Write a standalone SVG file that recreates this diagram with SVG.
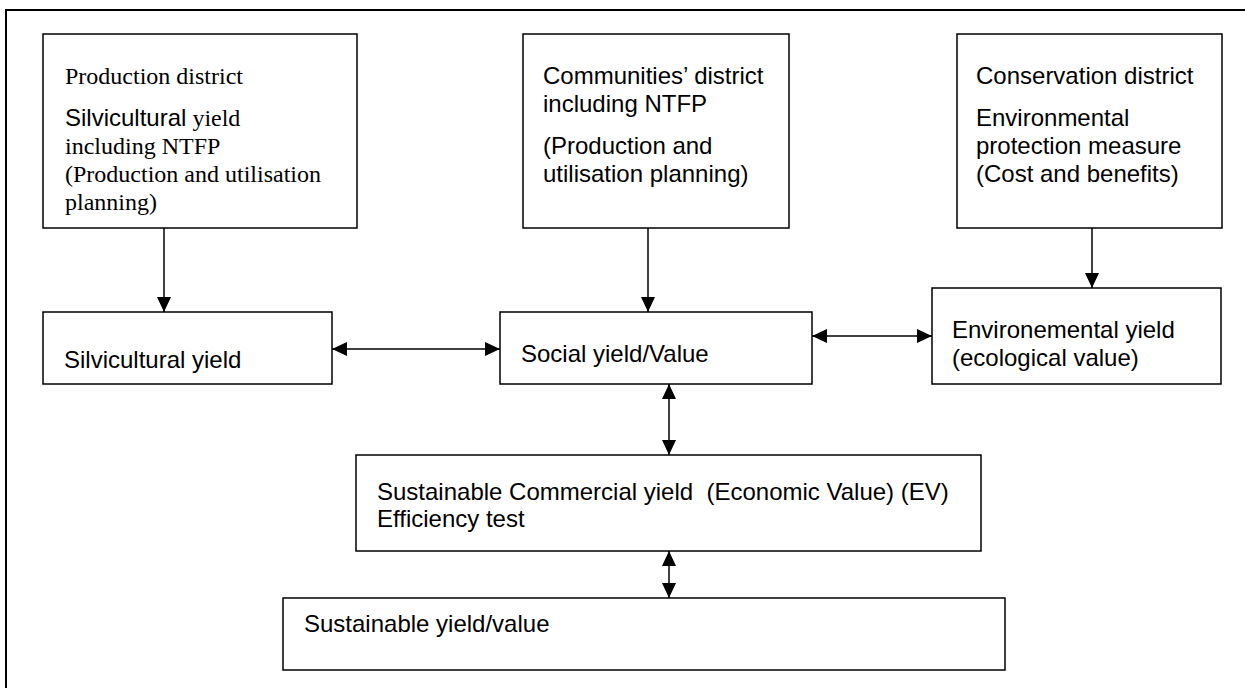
<svg xmlns="http://www.w3.org/2000/svg" width="1245" height="688" viewBox="0 0 1245 688">
<style>
.box{fill:#fff;stroke:#000;stroke-width:1.5}
.s{font-family:"Liberation Sans",Arial,sans-serif;font-size:24px;fill:#000}
.t{font-family:"Liberation Serif","Times New Roman",serif;font-size:24px;fill:#000}
.c{stroke:#000;stroke-width:1.5;fill:none}
</style>
<defs>
<marker id="ah" viewBox="0 0 15 14" refX="15" refY="7" markerWidth="15" markerHeight="14" markerUnits="userSpaceOnUse" orient="auto-start-reverse"><path d="M0,0 L15,7 L0,14 Z" fill="#000"/></marker>
</defs>
<rect width="1245" height="688" fill="#fff"/>
<path d="M6,688 V10 H1245" fill="none" stroke="#000" stroke-width="2"/>
<g id="connectors">
<line class="c" x1="164" y1="228" x2="164" y2="312" marker-end="url(#ah)"/>
<line class="c" x1="648" y1="228" x2="648" y2="312" marker-end="url(#ah)"/>
<line class="c" x1="1092" y1="228" x2="1092" y2="288" marker-end="url(#ah)"/>
<line class="c" x1="332" y1="349" x2="500" y2="349" marker-start="url(#ah)" marker-end="url(#ah)"/>
<line class="c" x1="812" y1="336" x2="932" y2="336" marker-start="url(#ah)" marker-end="url(#ah)"/>
<line class="c" x1="669" y1="384" x2="669" y2="455" marker-start="url(#ah)" marker-end="url(#ah)"/>
<line class="c" x1="669" y1="551" x2="669" y2="598" marker-start="url(#ah)" marker-end="url(#ah)"/>
</g>
<g id="production">
<rect class="box" x="43" y="34" width="314" height="194"/>
<text class="t" x="65" y="84">Production district</text>
<text class="t" x="65" y="126"><tspan class="s">Silvicultural</tspan> yield</text>
<text class="t" x="65" y="154">including NTFP</text>
<text class="t" x="65" y="182">(Production and utilisation</text>
<text class="t" x="65" y="210">planning)</text>
</g>
<g id="communities">
<rect class="box" x="523" y="34" width="266" height="194"/>
<text class="s" x="543" y="84">Communities’ district</text>
<text class="s" x="543" y="112">including NTFP</text>
<text class="s" x="543" y="154">(Production and</text>
<text class="s" x="543" y="182">utilisation planning)</text>
</g>
<g id="conservation">
<rect class="box" x="957" y="34" width="265" height="194"/>
<text class="s" x="976" y="84">Conservation district</text>
<text class="s" x="976" y="126">Environmental</text>
<text class="s" x="976" y="154">protection measure</text>
<text class="s" x="976" y="182">(Cost and benefits)</text>
</g>
<g id="silvicultural">
<rect class="box" x="43" y="312" width="289" height="72"/>
<text class="s" x="64" y="368">Silvicultural yield</text>
</g>
<g id="social">
<rect class="box" x="500" y="312" width="312" height="72"/>
<text class="s" x="521" y="362">Social yield/Value</text>
</g>
<g id="environmental">
<rect class="box" x="932" y="288" width="289" height="96"/>
<text class="s" x="952" y="338">Environemental yield</text>
<text class="s" x="952" y="366">(ecological value)</text>
</g>
<g id="commercial">
<rect class="box" x="356" y="455" width="625" height="96"/>
<text class="s" x="377" y="500" xml:space="preserve" style="white-space:pre">Sustainable Commercial yield  (Economic Value) (EV)</text>
<text class="s" x="377" y="527">Efficiency test</text>
</g>
<g id="sustainable">
<rect class="box" x="283" y="598" width="722" height="72"/>
<text class="s" x="304" y="632">Sustainable yield/value</text>
</g>
</svg>
